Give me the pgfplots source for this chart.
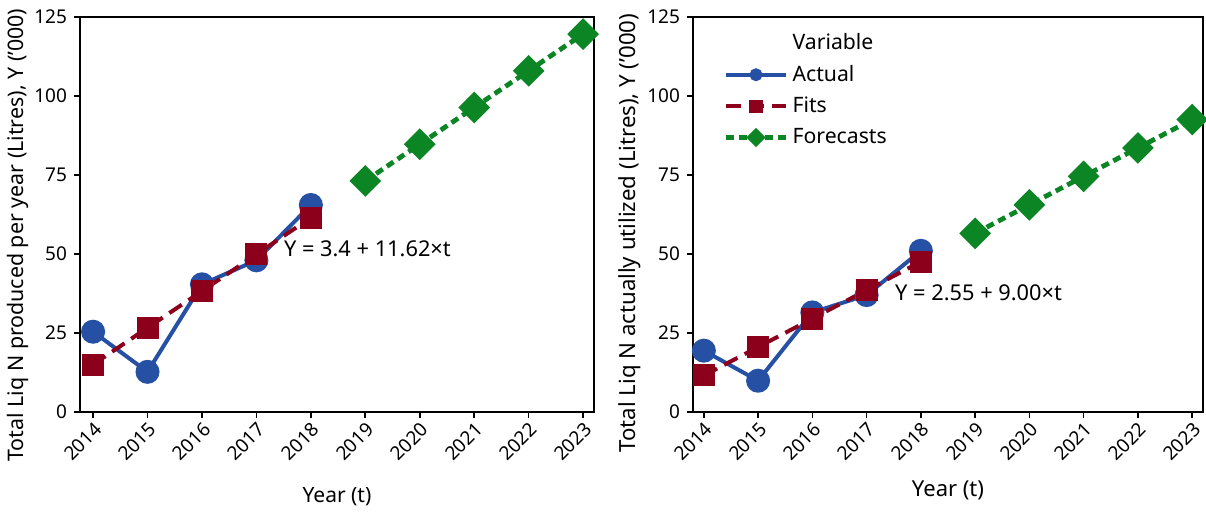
\documentclass[border=0pt]{standalone}
\usepackage{fontspec}
\setmainfont{Noto Sans}
\usepackage{pgfplots}
\pgfplotsset{compat=1.18}

\definecolor{actualblue}{RGB}{38,80,164}
\definecolor{fitsred}{RGB}{140,0,28}
\definecolor{fcgreen}{RGB}{12,133,36}

\pgfplotsset{
  trendpanel/.style={
    scale only axis,
    height=197.5pt,
    ymin=0, ymax=125,
    ytick={0,25,...,125},
    xtick={2014,...,2023},
    axis line style={line width=1pt},
    tick style={line width=0.8pt, black},
    tick align=outside,
    major tick length=3pt,
    xtick pos=bottom, ytick pos=left,
    /pgf/number format/.cd, 1000 sep={}, assume math mode=true,
    /pgfplots/.cd,
    x tick label style={rotate=45, anchor=north east, font=\fontsize{9.5}{11}\selectfont, inner sep=1pt},
    y tick label style={font=\fontsize{9.5}{11}\selectfont},
    clip=false,
  },
  actual/.style={color=actualblue, line width=2pt, mark=*, mark size=5pt,
    legend image code/.code={\draw[mark repeat=2,mark phase=2,##1,mark size=2.2pt] plot coordinates {(0cm,0cm) (0.53cm,0cm) (1.06cm,0cm)};}},
  fits/.style={color=fitsred, line width=2pt, dash pattern=on 7.5pt off 4pt, mark=square*, mark size=4.5pt, mark options={solid},
    legend image code/.code={\draw[mark repeat=2,mark phase=2,##1,mark size=2.4pt] plot coordinates {(0cm,0cm) (0.53cm,0cm) (1.06cm,0cm)};}},
  forecast/.style={color=fcgreen, line width=2.4pt, dash pattern=on 4pt off 2.5pt, mark=square*, mark size=4.4pt, mark options={solid, rotate=45},
    legend image code/.code={\draw[mark repeat=2,mark phase=2,##1,mark size=2.2pt] plot coordinates {(0cm,0cm) (0.53cm,0cm) (1.06cm,0cm)};}},
}

\begin{document}
\begin{tikzpicture}
\useasboundingbox (0,0) rectangle (603pt,256pt);

% Left panel: production
\begin{axis}[trendpanel,
  at={(40pt,50pt)}, anchor=origin,
  width=257pt,
  xmin=2013.76, xmax=2023.2,
  xlabel={Year (t)},
  ylabel={Total Liq N produced per year (Litres), Y ('000)},
  xlabel style={at={([yshift=-42.5pt]rel axis cs:0.5,0)}, anchor=center, font=\fontsize{10.5}{12}\selectfont},
  ylabel style={at={([xshift=-31pt]rel axis cs:0,0.448)}, anchor=center, rotate=0, font=\fontsize{10.7}{12}\selectfont},
]
\addplot[actual] coordinates {(2014,25.4) (2015,12.7) (2016,40.4) (2017,48.0) (2018,65.5)};
\addplot[fits] coordinates {(2014,15.02) (2015,26.64) (2016,38.26) (2017,49.88) (2018,61.50)};
\addplot[forecast] coordinates {(2019,73.12) (2020,84.74) (2021,96.36) (2022,107.98) (2023,119.60)};
\node[anchor=west, inner sep=0pt, font=\fontsize{10.9}{12}\selectfont] at (axis cs:2017.5,51.5) {Y = 3.4 + 11.62×t};
\end{axis}

% Right panel: utilisation
\begin{axis}[trendpanel,
  at={(346.5pt,50pt)}, anchor=origin,
  width=255pt,
  xmin=2013.8, xmax=2023.2,
  xlabel={Year (t)},
  ylabel={Total Liq N actually utilized (Litres), Y ('000)},
  xlabel style={at={([yshift=-39pt]rel axis cs:0.5,0)}, anchor=center, font=\fontsize{11}{12}\selectfont},
  ylabel style={at={([xshift=-31.5pt]rel axis cs:0,0.453)}, anchor=center, rotate=0, font=\fontsize{11.1}{12}\selectfont},
  legend cell align=left,
  legend style={at={(0.055,0.975)}, anchor=north west, draw=none, fill=none,
    font=\fontsize{10.6}{12}\selectfont, row sep=2.4pt, inner sep=1pt,
    /tikz/every even column/.append style={column sep=0pt},
    nodes={inner sep=2pt}},
  legend image post style={xshift=-2pt},
]
\addlegendimage{empty legend}
\addlegendentry{Variable}
\addplot[actual] coordinates {(2014,19.4) (2015,9.9) (2016,31.5) (2017,37.0) (2018,51.0)};
\addlegendentry{Actual}
\addplot[fits] coordinates {(2014,11.55) (2015,20.55) (2016,29.55) (2017,38.55) (2018,47.55)};
\addlegendentry{Fits}
\addplot[forecast] coordinates {(2019,56.55) (2020,65.55) (2021,74.55) (2022,83.55) (2023,92.55)};
\addlegendentry{Forecasts}
\node[anchor=west, inner sep=0pt, font=\fontsize{10.9}{12}\selectfont] at (axis cs:2017.52,37.8) {Y = 2.55 + 9.00×t};
\end{axis}
\end{tikzpicture}
\end{document}
